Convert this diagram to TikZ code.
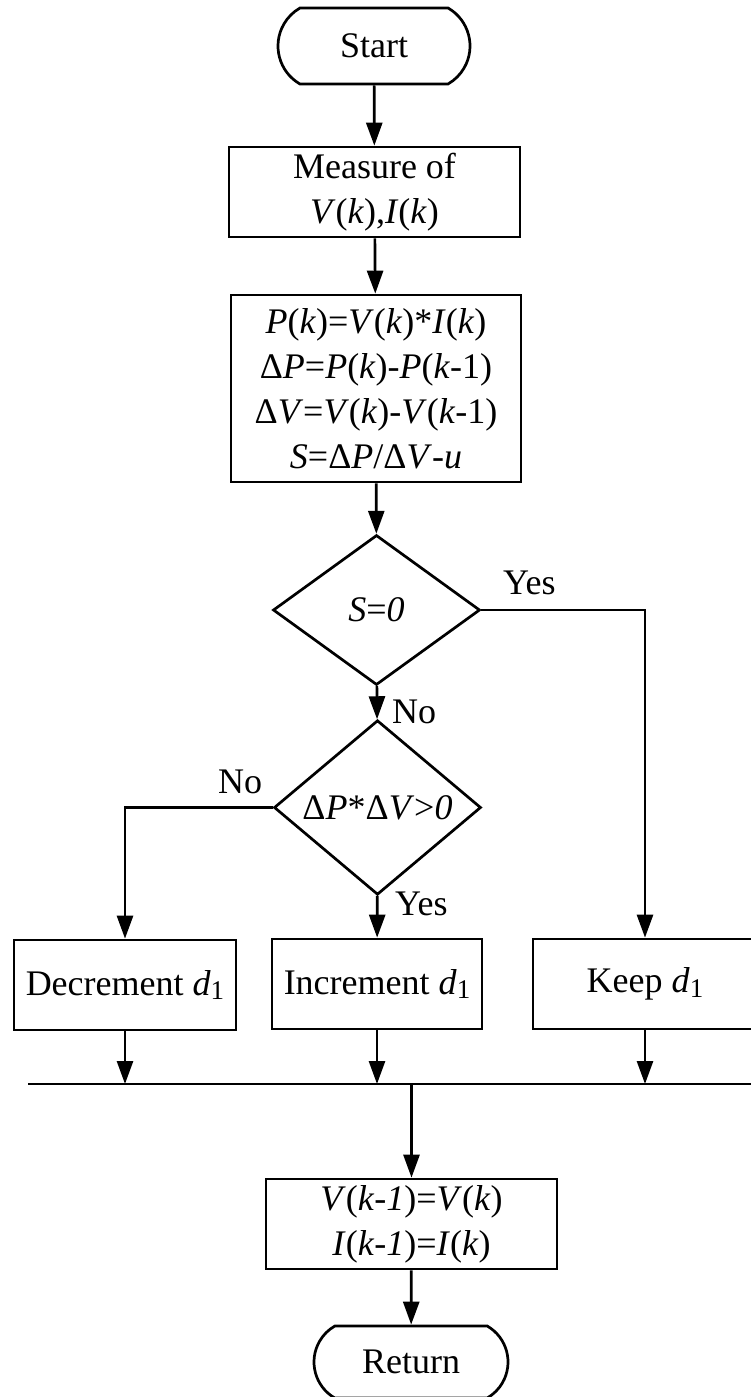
\documentclass[tikz,border=0pt]{standalone}
\usepackage{fontspec}
\setmainfont{Liberation Serif}
\usetikzlibrary{arrows.meta,shapes.geometric,shapes.misc}
\newcommand{\iv}[1]{\textit{#1}}
\newcommand{\dsub}{\textit{d}\raisebox{-0.3ex}{\fontsize{27}{27}\selectfont 1}}
\tikzset{
  base/.style={draw, line width=2.7pt, inner sep=0pt, font=\fontsize{36}{45}\selectfont, align=center},
  term/.style={base, rounded rectangle, rounded rectangle arc length=120, minimum width=192pt, minimum height=76pt},
  proc/.style={base, rectangle, minimum height=90pt},
  decis/.style={base, diamond, minimum width=207pt, minimum height=150pt},
  arr/.style={line width=2.7pt, -{Triangle[length=23pt,width=16pt]}},
  ln/.style={line width=2.7pt},
  lbl/.style={inner sep=0pt, anchor=base west, font=\fontsize{36}{45}\selectfont}
}
\begin{document}
\begin{tikzpicture}[x=1pt,y=-1pt]
\useasboundingbox (0,0) rectangle (751,1397);
\clip (0,0) rectangle (751,1397);
\node[term] (start) at (374,46) {Start};
\node[proc, minimum width=291pt] (meas) at (374.5,192) {Measure of\\\iv{V}(\iv{k}),\iv{I}(\iv{k})};
\node[proc, minimum width=290pt, minimum height=187pt] (calc) at (376,388.5)
  {\iv{P}(\iv{k})=\iv{V}(\iv{k})*\iv{I}(\iv{k})\\
   Δ\iv{P}=\iv{P}(\iv{k})-\iv{P}(\iv{k}-1)\\
   Δ\iv{V}=\iv{V}(\iv{k})-\iv{V}(\iv{k}-1)\\
   \iv{S}=Δ\iv{P}/Δ\iv{V}-\iv{u}};
\node[decis] (da) at (376.5,610) {\iv{S}=\iv{0}};
\node[decis] (db) at (377.5,807.5) {Δ\iv{P}*Δ\iv{V}>\iv{0}};
\node[proc, minimum width=222pt] (decr) at (125,985) {Decrement \dsub};
\node[proc, minimum width=210pt] (incr) at (377,984) {Increment \dsub};
\node[proc, minimum width=224pt] (keep) at (645,984) {Keep \dsub};
\node[proc, minimum width=291pt] (fin) at (411.5,1224) {\iv{V}(\iv{k}-\iv{1})=\iv{V}(\iv{k})\\\iv{I}(\iv{k}-\iv{1})=\iv{I}(\iv{k})};
\node[term, minimum width=194pt, minimum height=72pt] (ret) at (411,1362) {Return};
\coordinate (busL) at (28,1084);
\coordinate (busR) at (760,1084);
\draw[arr] (start) -- (meas);
\draw[arr] (meas) -- (calc);
\draw[arr] (calc) -- (da);
\draw[arr] (da) -- (db);
\draw[arr] (da.east) -| (keep.north);
\draw[arr] (db.west) -| (decr.north);
\draw[arr] (db) -- (incr);
\draw[ln] (busL) -- (busR);
\draw[arr] (decr.south) -- (decr.south |- busL);
\draw[arr] (incr.south) -- (incr.south |- busL);
\draw[arr] (keep.south) -- (keep.south |- busL);
\draw[arr] (fin.north |- busL) -- (fin.north);
\draw[arr] (fin) -- (ret);
\node[lbl] (yes1) at (503,594) {Yes};
\node[lbl] (no1) at (392,723) {No};
\node[lbl] (no2) at (218,793) {No};
\node[lbl] (yes2) at (395,915) {Yes};
\end{tikzpicture}
\end{document}
